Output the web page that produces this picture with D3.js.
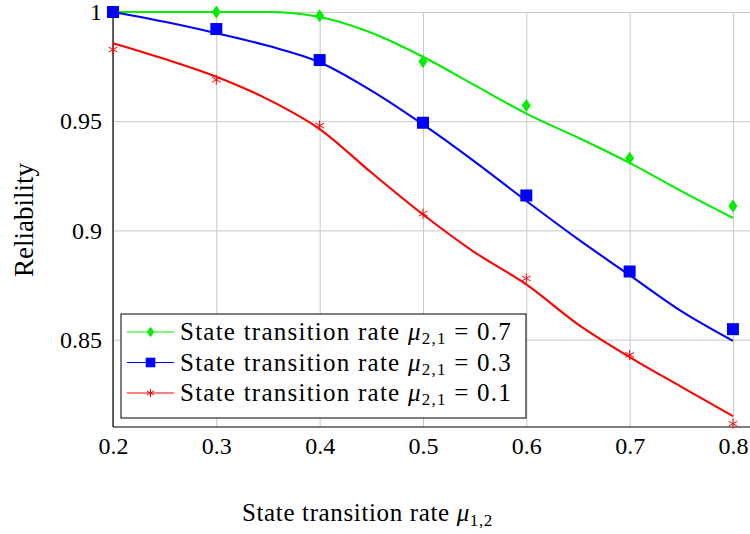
<!DOCTYPE html>
<html>
<head>
<meta charset="utf-8">
<script src="https://cdn.jsdelivr.net/npm/d3@7"></script>
<style>
  body { margin: 0; background: #fff; }
</style>
</head>
<body>
<svg></svg>
<script>
const w = 750
const h = 534
const FONT = "'Liberation Serif'"

// measured points (markers)
const xPts = [0.2, 0.3, 0.4, 0.5, 0.6, 0.7, 0.8]
const mu07 = [1.0, 1.0, 0.9983, 0.9773, 0.9572, 0.9330, 0.9112]
const mu03 = [1.0, 0.9922, 0.9780, 0.9493, 0.9160, 0.8812, 0.8548]
const mu01 = [0.9828, 0.9690, 0.9480, 0.9077, 0.8780, 0.8430, 0.8115]

// fitted curves (lines)
const xFit = [0.2, 0.25, 0.3, 0.35, 0.4, 0.45, 0.5, 0.55, 0.6, 0.65, 0.7, 0.75, 0.8]
const fit07 = [1.0, 1.0, 1.0, 1.0, 0.9977, 0.9905, 0.9795, 0.9665, 0.9535, 0.9425, 0.9309, 0.9180, 0.9057]
const fit03 = [1.0, 0.9955, 0.9903, 0.9845, 0.9770, 0.9640, 0.9485, 0.9315, 0.9135, 0.8960, 0.8795, 0.8630, 0.8494]
const fit01 = [0.9857, 0.9785, 0.9704, 0.9600, 0.9464, 0.9265, 0.9073, 0.8900, 0.8753, 0.8570, 0.8420, 0.8284, 0.8150]

const xTicks = [0.2, 0.3, 0.4, 0.5, 0.6, 0.7, 0.8]
const yTicks = [0.85, 0.9, 0.95, 1]

const seriesNames = ['0.7', '0.3', '0.1']
const colors = ['#00ee00', '#0000ff', '#ff0000']
const shapes = ['diamond', 'square', 'star']

const svg = d3.select('svg')
  .attr('width', w)
  .attr('height', h);

const margin = {top: 12, right: 0, bottom: 107, left: 113};
const innerWidth = w - margin.left - margin.right;
const innerHeight = h - margin.top - margin.bottom;

const xScale = d3.scaleLinear()
  .domain([0.2, 0.8165])
  .range([0, innerWidth]);

const yScale = d3.scaleLinear()
  .domain([0.81, 1])
  .range([innerHeight, 0]);

const g = svg.append('g')
  .attr('transform', `translate(${margin.left}, ${margin.top})`);

// grid
const xGrid = d3.axisBottom(xScale).tickValues(xTicks).tickSize(-innerHeight).tickFormat('')
g.append('g').attr('transform', `translate(0, ${innerHeight})`).call(xGrid)
  .call(a => a.select('.domain').remove())
  .selectAll('line').attr('stroke', '#c8c8c8').attr('stroke-width', 1);

const yGrid = d3.axisLeft(yScale).tickValues(yTicks).tickSize(-innerWidth).tickFormat('')
g.append('g').call(yGrid)
  .call(a => a.select('.domain').remove())
  .selectAll('line').attr('stroke', '#c8c8c8').attr('stroke-width', 1);

// axes lines
g.append('line').attr('x1', 0).attr('x2', 0).attr('y1', 0).attr('y2', innerHeight)
  .attr('stroke', 'black').attr('stroke-width', 1.2);
g.append('line').attr('x1', 0).attr('x2', innerWidth).attr('y1', innerHeight).attr('y2', innerHeight)
  .attr('stroke', 'black').attr('stroke-width', 1.2);

// tick labels
const xAxis = d3.axisBottom(xScale).tickValues(xTicks).tickSize(0).tickPadding(10)
  .tickFormat(d3.format('.1f'))
const xAxisG = g.append('g').attr('transform', `translate(0, ${innerHeight})`).call(xAxis)
xAxisG.select('.domain').remove()
xAxisG.selectAll('text').attr('font-family', FONT).attr('font-size', 24).attr('fill', 'black');

const yAxis = d3.axisLeft(yScale).tickValues(yTicks).tickSize(0).tickPadding(11)
  .tickFormat(d => String(d))
const yAxisG = g.append('g').call(yAxis)
yAxisG.select('.domain').remove()
yAxisG.selectAll('text').attr('font-family', FONT).attr('font-size', 24).attr('fill', 'black');

// curves
const fits = [fit07, fit03, fit01]
const pts = [mu07, mu03, mu01]
const line = d3.line()
  .x(d => xScale(d[0]))
  .y(d => yScale(d[1]))
  .curve(d3.curveMonotoneX);

fits.forEach((f, i) => {
  g.append('path')
    .datum(xFit.map((x, j) => [x, f[j]]))
    .attr('d', line)
    .attr('fill', 'none')
    .attr('stroke', colors[i])
    .attr('stroke-width', 2.1);
});

function drawMarker(sel, shape, color, cx, cy, big) {
  const s = big ? 1 : 0.8
  if (shape === 'diamond') {
    sel.append('path')
      .attr('d', `M${cx},${cy - 6.5 * s}L${cx + 4.5 * s},${cy}L${cx},${cy + 6.5 * s}L${cx - 4.5 * s},${cy}Z`)
      .attr('fill', color);
  } else if (shape === 'square') {
    sel.append('rect')
      .attr('x', cx - 6 * s).attr('y', cy - 6 * s)
      .attr('width', 12 * s).attr('height', 12 * s)
      .attr('fill', color);
  } else {
    const r = 5 * s
    for (let k = 0; k < 3; k++) {
      const a = Math.PI / 2 + k * Math.PI / 3
      sel.append('line')
        .attr('x1', cx - r * Math.cos(a)).attr('y1', cy - r * Math.sin(a))
        .attr('x2', cx + r * Math.cos(a)).attr('y2', cy + r * Math.sin(a))
        .attr('stroke', color).attr('stroke-width', 1);
    }
  }
}

pts.forEach((p, i) => {
  const mg = g.append('g')
  p.forEach((v, j) => drawMarker(mg, shapes[i], colors[i], xScale(xPts[j]), yScale(v), true))
});

// fit a text to a measured width by letter spacing
function fitWidth(t, target) {
  const n = t.text().length
  const cur = t.node().getComputedTextLength()
  t.attr('letter-spacing', (target - cur) / n)
}

// legend
const lg = svg.append('g').attr('transform', 'translate(121, 314)')
lg.append('rect').attr('width', 405).attr('height', 104)
  .attr('fill', 'white').attr('stroke', 'black').attr('stroke-width', 1);

seriesNames.forEach((name, i) => {
  const yy = 18 + i * 30.5
  lg.append('line').attr('x1', 6).attr('x2', 53).attr('y1', yy).attr('y2', yy)
    .attr('stroke', colors[i]).attr('stroke-width', 1);
  drawMarker(lg, shapes[i], colors[i], 29.5, yy, false);
  const t = lg.append('text').attr('x', 59).attr('y', yy + 8)
    .attr('font-family', FONT).attr('font-size', 25).attr('fill', 'black')
  t.append('tspan').text('State transition rate ')
  t.append('tspan').attr('font-style', 'italic').text('μ')
  t.append('tspan').attr('font-size', 17).attr('dy', 4).text('2,1')
  t.append('tspan').attr('dy', -4).text(' = ' + name)
  fitWidth(t, 332)
});

// axis titles
const xl = svg.append('text')
  .attr('x', 242).attr('y', 521)
  .attr('font-family', FONT).attr('font-size', 25).attr('fill', 'black')
xl.append('tspan').text('State transition rate ')
xl.append('tspan').attr('font-style', 'italic').text('μ')
xl.append('tspan').attr('font-size', 17).attr('dy', 5).text('1,2')
fitWidth(xl, 251)

svg.append('text')
  .attr('transform', 'translate(33, 220) rotate(-90)')
  .attr('text-anchor', 'middle')
  .attr('font-family', FONT).attr('font-size', 27).attr('fill', 'black')
  .text('Reliability');
</script>
</body>
</html>
